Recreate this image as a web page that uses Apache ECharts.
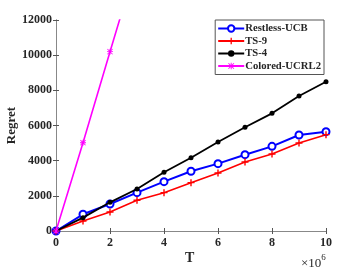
<!DOCTYPE html>
<html><head><meta charset="utf-8">
<script src="https://cdn.jsdelivr.net/npm/echarts@6/dist/echarts.min.js"></script>
<style>html,body{margin:0;padding:0;background:#fff}#c{width:360px;height:271px}</style>
</head><body><div id="c"></div>
<script>
const T = [0, 1, 2, 3, 4, 5, 6, 7, 8, 9, 10];
const restlessUCB = [0, 950, 1535, 2180, 2805, 3395, 3830, 4340, 4815, 5460, 5650];
const ts9 = [0, 570, 1080, 1745, 2180, 2750, 3300, 3925, 4380, 5005, 5480];
const ts4 = [0, 760, 1630, 2390, 3340, 4170, 5060, 5900, 6690, 7680, 8490];
const coloredT = [0, 1, 2, 3];
const coloredUCRL2 = [0, 5020, 10200, 15300];
const seriesNames = ['Restless-UCB', 'TS-9', 'TS-4', 'Colored-UCRL2'];

const font = '"Liberation Serif", "Times New Roman", serif';
const plusPath = 'path://M4,0h2v10h-2zM0,4h10v2h-10z';
const starPath = 'path://M4.3,0h1.4v10h-1.4zM0,4.3h10v1.4h-10zM1.2,0.2L9.8,8.8L8.8,9.8L0.2,1.2zM8.8,0.2L9.8,1.2L1.2,9.8L0.2,8.8z';

function pairs(xs, ys){ return xs.map((x,i)=>[x, ys[i]]); }

const chart = echarts.init(document.getElementById('c'));
const axisStyle = { color: '#262626', fontFamily: font, fontWeight: 'bold', fontSize: 12 };
chart.setOption({
  animation: false,
  grid: { left: 56, right: 34, top: 20, bottom: 40, containLabel: false, outerBoundsMode: 'none' },
  xAxis: [{
    type: 'value', min: 0, max: 10, interval: 2,
    axisLine: { lineStyle: { color: '#888', width: 1 } },
    axisTick: { inside: true, length: 3, lineStyle: { color: '#555' } },
    axisLabel: Object.assign({ margin: 6, formatter: v => String(v) }, axisStyle),
    splitLine: { show: false }
  }, {
    type: 'value', min: 0, max: 10, interval: 2, position: 'top',
    axisLine: { lineStyle: { color: '#888', width: 1 } },
    axisTick: { inside: true, length: 3, lineStyle: { color: '#555' } },
    axisLabel: { show: false }, splitLine: { show: false }
  }],
  yAxis: [{
    type: 'value', min: 0, max: 12000, interval: 2000,
    name: 'Regret', nameLocation: 'middle', nameGap: 38, nameMoveOverlap: false,
    nameTextStyle: { color: '#262626', fontFamily: font, fontWeight: 'bold', fontSize: 13 },
    axisLine: { show: true, lineStyle: { color: '#888', width: 1 } },
    axisTick: { show: true, inside: true, length: 3, lineStyle: { color: '#555' } },
    axisLabel: Object.assign({ margin: 4, formatter: v => String(v) }, axisStyle),
    splitLine: { show: false }
  }, {
    type: 'value', min: 0, max: 12000, interval: 2000, position: 'right',
    axisLine: { show: true, lineStyle: { color: '#888', width: 1 } },
    axisTick: { show: true, inside: true, length: 3, lineStyle: { color: '#555' } },
    axisLabel: { show: false }, splitLine: { show: false }
  }],
  legend: {
    orient: 'vertical', right: 36, top: 20,
    data: seriesNames,
    itemWidth: 26, itemHeight: 8, itemGap: 1.5,
    padding: [3, 3, 3, 2],
    borderColor: '#555', borderWidth: 1, backgroundColor: '#fff',
    textStyle: { color: '#262626', fontFamily: font, fontWeight: 'bold', fontSize: 10.7, padding: [0,0,0,-4] }
  },
  graphic: [
    { type: 'text', left: 185, top: 251, style: { text: 'T', font: 'bold 14px ' + font, fill: '#262626' } },
    { type: 'text', left: 301, top: 253, style: {
      text: '{a|×10}{b|6}', fill: '#262626',
      rich: { a: { font: '13px ' + font, fill: '#262626', verticalAlign: 'bottom' }, b: { font: '9px ' + font, fill: '#262626', padding: [0,0,8,0] } }
    } }
  ],
  series: [
    { name: seriesNames[0], type: 'line', data: pairs(T, restlessUCB), color: '#0000ff',
      symbol: 'emptyCircle', symbolSize: 7, lineStyle: { width: 2 }, itemStyle: { borderWidth: 1.6 }, z: 3 },
    { name: seriesNames[1], type: 'line', data: pairs(T, ts9), color: '#ff0000',
      symbol: plusPath, symbolSize: 7, lineStyle: { width: 1.6 }, z: 3 },
    { name: seriesNames[2], type: 'line', data: pairs(T, ts4), color: '#000000',
      symbol: 'circle', symbolSize: 5, lineStyle: { width: 1.8 }, z: 4 },
    { name: seriesNames[3], type: 'line', data: pairs(coloredT, coloredUCRL2), color: '#ff00ff',
      symbol: starPath, symbolSize: 6, lineStyle: { width: 1.6 }, clip: true, z: 5 }
  ]
});
</script></body></html>
